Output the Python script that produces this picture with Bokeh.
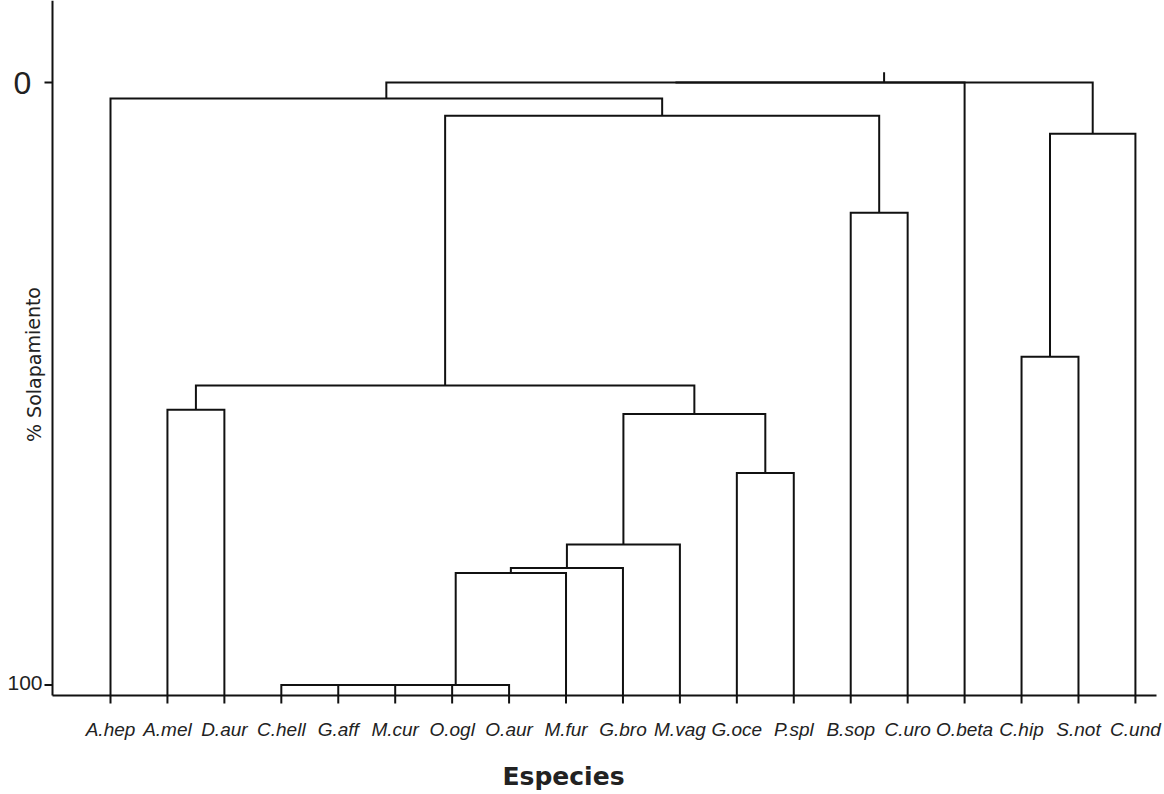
from bokeh.plotting import figure
from bokeh.models import Range1d
from bokeh.core.properties import value
from bokeh.embed import file_html
from bokeh.resources import INLINE

# ---- data ----
leaves = ["A.hep", "A.mel", "D.aur", "C.hell", "G.aff", "M.cur", "O.ogl", "O.aur",
          "M.fur", "G.bro", "M.vag", "G.oce", "P.spl", "B.sop", "C.uro", "O.beta",
          "C.hip", "S.not", "C.und"]
# linkage: names are leaves, integers >= 19 refer to earlier merges (19 + k)
merge_left = ["C.hell", 19, 20, 21, 22, 23, 24, "G.oce", 25, "A.mel", 28, "B.sop", 29,
              "A.hep", "C.hip", 33, 32, 35]
merge_right = ["G.aff", "M.cur", "O.ogl", "O.aur", "M.fur", "G.bro", "M.vag", "P.spl", 26,
               "D.aur", 27, "C.uro", 30, 31, "S.not", "C.und", "O.beta", 34]
merge_height = [100, 100, 100, 100, 81.4, 80.6, 76.7, 64.8, 55.0, 54.3, 50.3, 21.6, 5.5,
                2.66, 45.5, 8.5, 0, 0]
root_stub = -1.7
y_ticks = [0, 100]
y_tick_labels = ["0", "100"]
x_title = "Especies"
y_title = "% Solapamiento"

# ---- layout constants (pixels -> data) ----
W, H = 1164, 794
PX_X = 56.94          # pixels per leaf step
PX_Y = 6.025          # pixels per % unit
X0_PIX, Y0_PIX = 110, 82   # pixel of leaf 1 / of value 0
def dx(px): return px / PX_X
def dy(px): return px / PX_Y
x_lo, x_hi = 1 - dx(X0_PIX), 1 + dx(W - X0_PIX)
y_top, y_bot = -dy(Y0_PIX), dy(H - Y0_PIX)
AX_LEFT = 1 - dx(X0_PIX - 52)        # y-axis line position
AX_RIGHT = 1 + dx(1156 - X0_PIX)
AX_BOTTOM = dy(695 - Y0_PIX)         # x-axis line position
TICK = 8

n = len(leaves)
def ref(c):
    return leaves.index(c) if isinstance(c, str) else c

pos_x = {i: i + 1 for i in range(n)}
pos_y = {i: AX_BOTTOM for i in range(n)}
xs, ys = [], []
for k, (a, b, h) in enumerate(zip(merge_left, merge_right, merge_height)):
    ia, ib = ref(a), ref(b)
    xa, xb = pos_x[ia], pos_x[ib]
    xs.append([xa, xa, xb, xb])
    ys.append([pos_y[ia], h, h, pos_y[ib]])
    node = n + k
    pos_x[node] = (xa + xb) / 2
    pos_y[node] = h
root = n + len(merge_height) - 1
xs.append([pos_x[root], pos_x[root]])
ys.append([pos_y[root], root_stub])

p = figure(width=W, height=H, output_backend="svg", toolbar_location=None,
           x_range=Range1d(x_lo, x_hi), y_range=Range1d(y_bot, y_top),
           x_axis_location=None, y_axis_location=None,
           min_border=0, min_border_left=0, min_border_right=0,
           min_border_top=0, min_border_bottom=0)
p.outline_line_color = None
p.grid.visible = False
p.background_fill_color = "white"
p.border_fill_color = "white"

LC = "#111111"
LW = 2

# dendrogram links
p.multi_line(xs, ys, line_color=LC, line_width=LW, line_join="miter")

# axes lines
p.segment(x0=[AX_LEFT, AX_LEFT], y0=[y_top, AX_BOTTOM], x1=[AX_LEFT, AX_RIGHT],
          y1=[AX_BOTTOM, AX_BOTTOM], line_color=LC, line_width=LW)
# x ticks
leaf_x = [i + 1 for i in range(n)]
p.segment(x0=leaf_x, y0=[AX_BOTTOM] * n, x1=leaf_x, y1=[AX_BOTTOM + dy(TICK)] * n,
          line_color=LC, line_width=LW)
# y ticks
p.segment(x0=[AX_LEFT - dx(TICK)] * len(y_ticks), y0=y_ticks,
          x1=[AX_LEFT] * len(y_ticks), y1=y_ticks, line_color=LC, line_width=LW)

# x tick labels
p.text(x=leaf_x, y=[AX_BOTTOM + dy(TICK + 15)] * n, text=leaves,
       text_font=value("Liberation Sans"), text_font_style="italic",
       text_font_size="19px", text_align="center", text_baseline="top",
       text_color="#222222")

# y tick labels
p.text(x=[AX_LEFT - dx(30)], y=[y_ticks[0]], text=[y_tick_labels[0]],
       text_font=value("Liberation Sans"), text_font_size="32px",
       text_align="center", text_baseline="middle", text_color="#222222")
p.text(x=[AX_LEFT - dx(10)], y=[y_ticks[1]], text=[y_tick_labels[1]],
       text_font=value("Liberation Sans"), text_font_size="21px",
       text_align="right", text_baseline="bottom", y_offset=5, text_color="#222222")

# axis titles
p.text(x=[AX_LEFT - dx(19)], y=[dy(364 - Y0_PIX)], text=[y_title],
       text_font=value("DejaVu Sans"), text_font_size="19px", angle=1.5708,
       text_align="center", text_baseline="middle", text_color="#222222")
p.text(x=[1 + dx(563 - X0_PIX)], y=[dy(776 - Y0_PIX)], text=[x_title],
       text_font=value("DejaVu Sans"), text_font_style="bold", text_font_size="25px",
       text_align="center", text_baseline="middle", text_color="#222222")

open("out.html", "w").write(file_html(p, INLINE))
